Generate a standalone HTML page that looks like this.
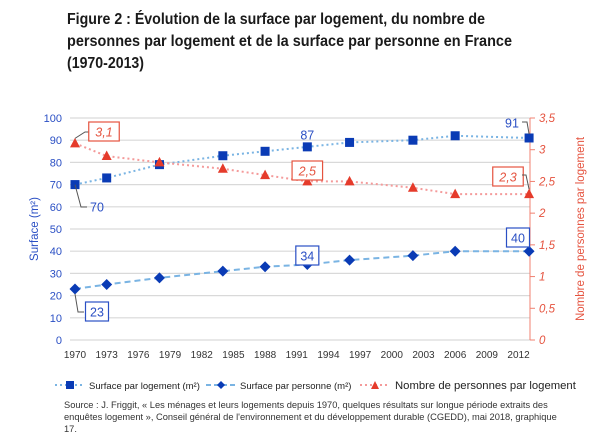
<!DOCTYPE html>
<html><head><meta charset="utf-8"><style>
body{margin:0;background:#fff;}
svg{display:block;font-family:"Liberation Sans",sans-serif;}
</style></head><body>
<svg id="chart" width="605" height="436" viewBox="0 0 605 436" xmlns="http://www.w3.org/2000/svg">
<g font-weight="bold" font-size="15.5" fill="#1a1a1a">
<text x="67" y="24" textLength="418" lengthAdjust="spacingAndGlyphs">Figure 2 : Évolution de la surface par logement, du nombre de</text>
<text x="67" y="46" textLength="445" lengthAdjust="spacingAndGlyphs">personnes par logement et de la surface par personne en France</text>
<text x="67" y="68" textLength="77" lengthAdjust="spacingAndGlyphs">(1970-2013)</text>
</g>
<g id="grid"></g><g id="axes"></g><g id="series"></g><g id="labels"></g>
<g fill="#222">
<g>
<line x1="55" y1="385" x2="85" y2="385" stroke="#7ab4e3" stroke-width="2" stroke-dasharray="2,3"/>
<rect x="66" y="381" width="8" height="8" fill="#0a3bb5"/>
<text x="89" y="389" font-size="9.5">Surface par logement (m²)</text></g>
<g>
<line x1="206" y1="385" x2="236" y2="385" stroke="#7ab4e3" stroke-width="2" stroke-dasharray="5,3"/>
<path d="M221 381 L225 385 L221 389 L217 385Z" fill="#0a3bb5"/>
<text x="240" y="389" font-size="9.5">Surface par personne (m²)</text></g>
<g>
<line x1="360" y1="385" x2="390" y2="385" stroke="#f49a9a" stroke-width="2" stroke-dasharray="2,3"/>
<path d="M375 381 L379 389 L371 389Z" fill="#e53b2b"/>
<text x="395" y="389" font-size="11.3">Nombre de personnes par logement</text></g>
</g>
<g font-size="9.3" fill="#333">
<text x="64" y="408">Source : J. Friggit, « Les ménages et leurs logements depuis 1970, quelques résultats sur longue période extraits des</text>
<text x="64" y="420">enquêtes logement », Conseil général de l'environnement et du développement durable (CGEDD), mai 2018, graphique</text>
<text x="64" y="432">17.</text>
</g>
</svg>
<script>
const years=[1970,1973,1978,1984,1988,1992,1996,2002,2006,2013];
const surfaceLogement=[70,73,79,83,85,87,89,90,92,91];
const surfacePersonne=[23,25,28,31,33,34,36,38,40,40];
const personnes=[3.1,2.9,2.8,2.7,2.6,2.5,2.5,2.4,2.3,2.3];
const xTicks=[1970,1973,1976,1979,1982,1985,1988,1991,1994,1997,2000,2003,2006,2009,2012];
const leftTicks=[0,10,20,30,40,50,60,70,80,90,100];
const rightTicks=["0","0,5","1","1,5","2","2,5","3","3,5"];
const NS="http://www.w3.org/2000/svg";
const x=y=>75+(y-1970)*10.56;
const yL=v=>340-v*2.22;
const yR=v=>340-v/3.5*222;
function mk(tag,attrs,parent,txt){const e=document.createElementNS(NS,tag);for(const k in attrs)e.setAttribute(k,attrs[k]);if(txt!==undefined)e.textContent=txt;parent.appendChild(e);return e;}
const grid=document.getElementById('grid'),axes=document.getElementById('axes'),ser=document.getElementById('series'),lab=document.getElementById('labels');
leftTicks.forEach(t=>{
 const l=mk('line',{x1:70,x2:530,y1:yL(t),y2:yL(t),stroke:'#d9d9d9','stroke-width':1.2},grid);
 
 
 const tx=mk('text',{x:62,y:yL(t)+4,'text-anchor':'end','font-size':11,fill:'#2a4fc4'},axes,String(t));
 
 
});
xTicks.forEach(t=>{
 const tx=mk('text',{x:x(t),y:358,'text-anchor':'middle','font-size':10,fill:'#333'},axes,String(t));
 
 
});
const ra=mk('line',{x1:530,x2:530,y1:118,y2:340,stroke:'#f08070','stroke-width':1},axes);


rightTicks.forEach((t,i)=>{
 const v=i*0.5;
 mk('line',{x1:530,x2:535,y1:yR(v),y2:yR(v),stroke:'#f08070'},axes);
 const tx=mk('text',{x:539,y:yR(v)+4,'font-size':11.5,'font-style':'italic',fill:'#e5533f'},axes,t);
 
 
});
const ylt=mk('text',{x:0,y:0,transform:'translate(38,229) rotate(-90)','text-anchor':'middle','font-size':11.5,fill:'#2a4fc4'},axes,'Surface (m²)');


const yrt=mk('text',{x:0,y:0,transform:'translate(584,229) rotate(-90)','text-anchor':'middle','font-size':11.5,fill:'#e5533f'},axes,'Nombre de personnes par logement');


function line(vals,yf,color,dash,name){
 const p=mk('polyline',{points:vals.map((v,i)=>x(years[i])+','+yf(v)).join(' '),fill:'none',stroke:color,'stroke-width':2,'stroke-dasharray':dash},ser);
 
 
}
line(surfaceLogement,yL,'#7ab4e3','2,3','line-surface-logement');
line(surfacePersonne,yL,'#7ab4e3','6,4','line-surface-personne');
line(personnes,yR,'#f49a9a','2,3','line-nombre-personnes');
years.forEach((yr,i)=>{
 const cx=x(yr);
 let m=mk('rect',{x:cx-4.5,y:yL(surfaceLogement[i])-4.5,width:9,height:9,fill:'#0a3bb5'},ser);
 
 
 let cy=yL(surfacePersonne[i]);
 m=mk('path',{d:`M${cx} ${cy-5.5}L${cx+5.5} ${cy}L${cx} ${cy+5.5}L${cx-5.5} ${cy}Z`,fill:'#0a3bb5'},ser);
 
 
 cy=yR(personnes[i]);
 m=mk('path',{d:`M${cx} ${cy-5.5}L${cx+5} ${cy+4}L${cx-5} ${cy+4}Z`,fill:'#e53b2b'},ser);
 
 
});
function label(txt,lx,ly,color,box,italic){
 const g=mk('g',{},lab);
 
 
 if(box){const w=txt.length*7.5+8;mk('rect',{x:lx-w/2,y:ly-10,width:w,height:19,fill:'#fff',stroke:color,'stroke-width':1.2},g);}
 mk('text',{x:lx,y:ly+4.5,'text-anchor':'middle','font-size':12.5,fill:color,'font-style':italic?'italic':'normal'},g,txt);
}
mk('polyline',{points:`${x(1970)} ${yL(70)} ${x(1970)+6} 207 ${x(1970)+12} 207`,fill:'none',stroke:'#555'},lab);
label('70',x(1970)+22,207,'#2a4fc4',false);
label('87',x(1992),yL(87)-12,'#2a4fc4',false);
label('91',512,123,'#2a4fc4',false);
mk('polyline',{points:`522 122 527 122 ${x(2013)} ${yL(91)-4}`,fill:'none',stroke:'#555'},lab);
mk('polyline',{points:`${x(1970)} ${yR(3.1)-5} ${x(1970)+10} 132 ${x(1970)+15} 132`,fill:'none',stroke:'#555'},lab);
label('3,1',x(1970)+29,132,'#e5533f',true,true);
label('2,5',x(1992),171,'#e5533f',true,true);
label('2,3',508,177,'#e5533f',true,true);
mk('polyline',{points:`522 175 526 175 ${x(2013)} ${yR(2.3)-5}`,fill:'none',stroke:'#555'},lab);
mk('polyline',{points:`${x(1970)} ${yL(23)+5} ${x(1970)+3} 312 ${x(1970)+9} 312`,fill:'none',stroke:'#555'},lab);
label('23',x(1970)+22,312,'#2a4fc4',true);
label('34',x(1992),256,'#2a4fc4',true);
label('40',518,238,'#2a4fc4',true);
</script>
</body></html>
